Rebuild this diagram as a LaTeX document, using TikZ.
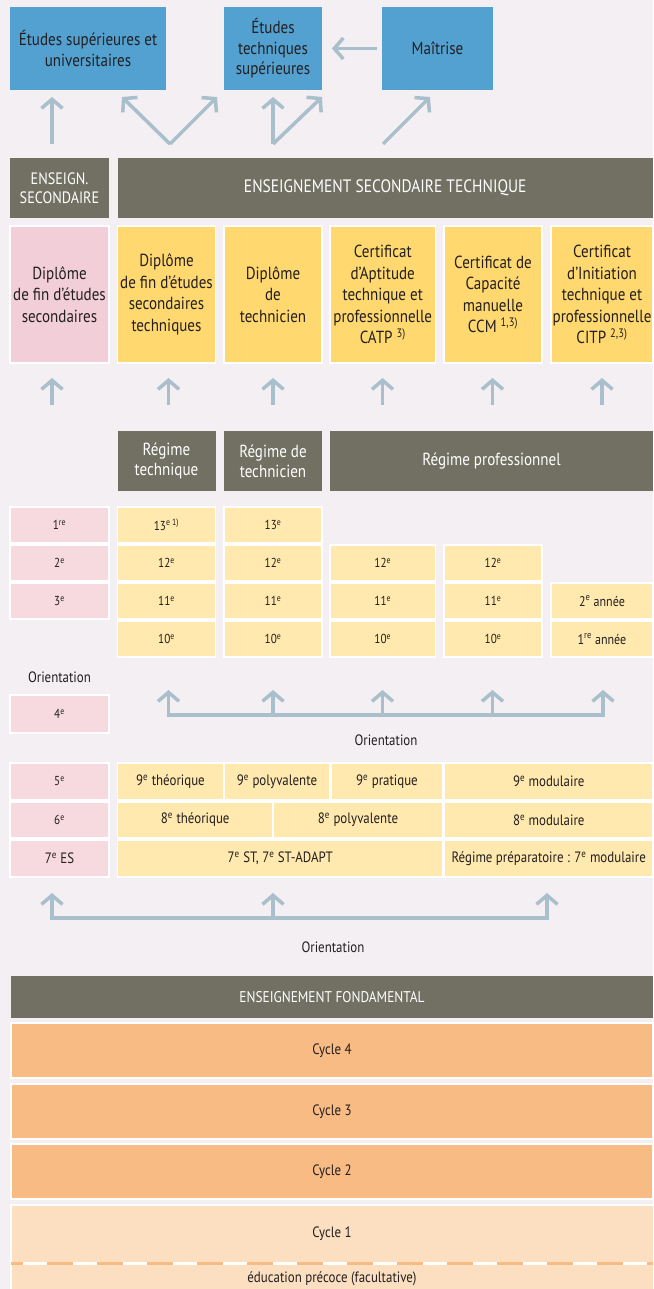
\documentclass[tikz,border=0pt]{standalone}
\usepackage{fontspec}
\setmainfont{PT Sans}[FakeStretch=0.86]
\usetikzlibrary{arrows.meta}
\definecolor{bg}{HTML}{F3EFF3}
\definecolor{cblue}{HTML}{53A1D1}
\definecolor{cgray}{HTML}{717062}
\definecolor{cpinkd}{HTML}{F2CFD8}
\definecolor{cpink}{HTML}{F6DAE0}
\definecolor{cyeld}{HTML}{FFD96F}
\definecolor{cyel}{HTML}{FFE9AE}
\definecolor{corange}{HTML}{F7BB83}
\definecolor{clight}{HTML}{FCDFC0}
\definecolor{carr}{HTML}{A9BFCC}
\definecolor{txt}{HTML}{231F20}
\newcommand\bx[7]{\path ({(#2+#4)/2},{(#3+#5)/2}) node[#6, minimum width={#4-#2}, minimum height={#5-#3}] (#1) {#7};}
\newcommand\se[1]{\textsuperscript{#1}}
\begin{document}
\begin{tikzpicture}[x=1pt,y=-1pt,
  box/.style={inner sep=0pt, outer sep=0pt, draw=white, line width=1.2pt, align=center, text=txt},
  bluebox/.style={box, fill=cblue, draw=none, font=\fontsize{17.5}{20.5}\selectfont},
  hdr/.style={box, fill=cgray, text=white, draw=none, font=\fontsize{18}{19}\selectfont},
  dip/.style={box, font=\fontsize{17.5}{21.5}\selectfont},
  cell/.style={box, font=\fontsize{13}{15}\selectfont},
  rowc/.style={box, font=\fontsize{15}{17}\selectfont},
  cyc/.style={box, fill=corange, font=\fontsize{15}{17}\selectfont},
  lbl/.style={text=txt, font=\fontsize{15}{17}\selectfont, inner sep=0pt},
  arr/.style={draw=carr, line width=3.5pt, -{Straight Barb[length=9pt,width=21pt]}},
  arrb/.style={draw=carr, line width=3.5pt, {Straight Barb[length=9pt,width=21pt]}-{Straight Barb[length=9pt,width=21pt]}}
]
\fill[bg] (0,0) rectangle (653,1289);
\useasboundingbox (0,0) rectangle (653,1289);

% top boxes
\bx{b1}{10}{7}{166}{90}{bluebox}{Études supérieures et\\universitaires}
\bx{b2}{224}{7}{322}{90}{bluebox}{Études\\techniques\\supérieures}
\bx{b3}{382}{7}{493}{90}{bluebox}{Maîtrise}
\draw[arr, shorten <=5pt, shorten >=10pt] (b3.west) -- (b2.east);

\coordinate (s1) at (52,144);   \coordinate (t1) at (52,97);
\coordinate (s2) at (170,144);  \coordinate (t2a) at (122,97); \coordinate (t2b) at (217,97);
\coordinate (s3) at (273,144);  \coordinate (t3a) at (273,97); \coordinate (t3b) at (322,97);
\coordinate (s4) at (383,144);  \coordinate (t4) at (430,97);
\draw[arr] (s1) -- (t1);
\draw[arr] (s2) -- (t2a);
\draw[arr] (s2) -- (t2b);
\draw[arr] (s3) -- (t3a);
\draw[arr] (s3) -- (t3b);
\draw[arr] (s4) -- (t4);

% gray headers
\bx{g1}{10}{158}{109}{218}{hdr, font=\fontsize{16.5}{19}\selectfont}{ENSEIGN.\\SECONDAIRE}
\bx{g2}{117.5}{158}{653}{218}{hdr}{ENSEIGNEMENT SECONDAIRE TECHNIQUE}

% diplomas
\bx{d0}{10}{226}{109}{363}{dip, fill=cpinkd}{Diplôme\\de fin d’études\\secondaires}
\bx{d1}{117.5}{226}{215.5}{363}{dip, fill=cyeld}{Diplôme\\de fin d’études\\secondaires\\techniques}
\bx{d2}{224}{226}{322}{363}{dip, fill=cyeld}{Diplôme\\de\\technicien}
\bx{d3}{330}{226}{435.5}{363}{dip, fill=cyeld}{Certificat\\d’Aptitude\\technique et\\professionnelle\\CATP \se{3)}}
\bx{d4}{444}{226}{542}{363}{dip, fill=cyeld}{Certificat de\\Capacité\\manuelle\\CCM \se{1,3)}}
\bx{d5}{551}{226}{653}{363}{dip, fill=cyeld}{Certificat\\d’Initiation\\technique et\\professionnelle\\CITP \se{2,3)}}

\foreach \x [count=\i] in {52,168.5,273,382.5,492.5,602}{
  \coordinate (us\i) at (\x,405); \coordinate (ut\i) at (\x,378);
  \draw[arr] (us\i) -- (ut\i);
}

% regimes
\bx{r1}{117.5}{431}{215.5}{491}{hdr, font=\fontsize{17.5}{20}\selectfont}{Régime\\technique}
\bx{r2}{224}{431}{322}{491}{hdr, font=\fontsize{17.5}{20}\selectfont}{Régime de\\technicien}
\bx{r3}{330}{431}{653}{491}{hdr, font=\fontsize{17.5}{20}\selectfont}{Régime professionnel}

% grid
\bx{p1}{10}{507}{109}{543}{cell, fill=cpink}{1\se{re}}
\bx{p2}{10}{545}{109}{581}{cell, fill=cpink}{2\se{e}}
\bx{p3}{10}{583}{109}{619}{cell, fill=cpink}{3\se{e}}
\bx{a1}{117.5}{507}{215.5}{543}{cell, fill=cyel}{13\se{e 1)}}
\bx{a2}{117.5}{545}{215.5}{581}{cell, fill=cyel}{12\se{e}}
\bx{a3}{117.5}{583}{215.5}{619}{cell, fill=cyel}{11\se{e}}
\bx{a4}{117.5}{621}{215.5}{657}{cell, fill=cyel}{10\se{e}}
\bx{e1}{224}{507}{322}{543}{cell, fill=cyel}{13\se{e}}
\bx{e2}{224}{545}{322}{581}{cell, fill=cyel}{12\se{e}}
\bx{e3}{224}{583}{322}{619}{cell, fill=cyel}{11\se{e}}
\bx{e4}{224}{621}{322}{657}{cell, fill=cyel}{10\se{e}}
\bx{f2}{330}{545}{435.5}{581}{cell, fill=cyel}{12\se{e}}
\bx{f3}{330}{583}{435.5}{619}{cell, fill=cyel}{11\se{e}}
\bx{f4}{330}{621}{435.5}{657}{cell, fill=cyel}{10\se{e}}
\bx{h2}{444}{545}{542}{581}{cell, fill=cyel}{12\se{e}}
\bx{h3}{444}{583}{542}{619}{cell, fill=cyel}{11\se{e}}
\bx{h4}{444}{621}{542}{657}{cell, fill=cyel}{10\se{e}}
\bx{k3}{551}{583}{653}{619}{cell, fill=cyel, font=\fontsize{14}{16}\selectfont}{2\se{e} année}
\bx{k4}{551}{621}{653}{657}{cell, fill=cyel, font=\fontsize{14}{16}\selectfont}{1\se{re} année}

% orientation 1
\node[lbl] (o1) at (59.5,677) {Orientation};
\bx{p4}{10}{695}{109}{733}{cell, fill=cpink}{4\se{e}}
\coordinate (ob1) at (168.5,715); \coordinate (ot1) at (168.5,690);
\coordinate (ob5) at (603,715);   \coordinate (ot5) at (603,690);
\draw[arrb, line join=miter] (ot1) -- (ob1) -- (ob5) -- (ot5);
\foreach \x [count=\i from 2] in {273,382.5,492.5}{
  \coordinate (ob\i) at (\x,715); \coordinate (ot\i) at (\x,690);
  \draw[arr] (ob\i) -- (ot\i);
}
\node[lbl] (o2) at (386,740) {Orientation};

% lower rows
\bx{p5}{10}{763}{109}{800}{cell, fill=cpink}{5\se{e}}
\bx{p6}{10}{802}{109}{838}{cell, fill=cpink}{6\se{e}}
\bx{p7}{10}{840}{109}{877}{cell, fill=cpink, font=\fontsize{15}{17}\selectfont}{7\se{e} ES}
\bx{n1}{117.5}{763}{223.5}{800}{rowc, fill=cyel}{9\se{e} théorique}
\bx{n2}{224}{763}{330}{800}{rowc, fill=cyel}{9\se{e} polyvalente}
\bx{n3}{331}{763}{443}{800}{rowc, fill=cyel}{9\se{e} pratique}
\bx{n4}{444.5}{763}{653}{800}{rowc, fill=cyel}{9\se{e} modulaire}
\bx{m1}{117.5}{802}{273}{838}{rowc, fill=cyel}{8\se{e} théorique}
\bx{m2}{273}{802}{443}{838}{rowc, fill=cyel}{8\se{e} polyvalente}
\bx{m3}{444.5}{802}{653}{838}{rowc, fill=cyel}{8\se{e} modulaire}
\bx{l1}{117.5}{840}{443}{877}{rowc, fill=cyel}{7\se{e} ST, 7\se{e} ST-ADAPT}
\bx{l2}{444.5}{840}{653}{877}{rowc, fill=cyel}{Régime préparatoire : 7\se{e} modulaire}

% orientation 2
\coordinate (qb1) at (52,918);  \coordinate (qt1) at (52,893);
\coordinate (qb2) at (273,918); \coordinate (qt2) at (273,893);
\coordinate (qb3) at (547,918); \coordinate (qt3) at (547,893);
\draw[arrb, line join=miter] (qt1) -- (qb1) -- (qb3) -- (qt3);
\draw[arr] (qb2) -- (qt2);
\node[lbl] (o3) at (333,947) {Orientation};

% fondamental
\bx{fh}{11}{976}{653}{1018}{hdr, font=\fontsize{15.5}{17}\selectfont}{ENSEIGNEMENT FONDAMENTAL}
\bx{c4}{11}{1023}{653}{1078}{cyc}{Cycle 4}
\bx{c3}{11}{1084}{653}{1139}{cyc}{Cycle 3}
\bx{c2}{11}{1144}{653}{1199}{cyc}{Cycle 2}
\fill[clight] (11,1205) rectangle (653,1289);
\draw[white, line width=1.2pt] (11,1289) -- (11,1205) -- (653,1205);
\bx{c1}{11}{1205}{653}{1262}{cyc, fill=none, draw=none}{Cycle 1}
\bx{ep}{11}{1265}{653}{1293}{cyc, fill=none, draw=none}{éducation précoce (facultative)}
\draw[corange, line width=3pt] (11,1263) -- (653,1263);
\draw[white, line width=3pt, dash pattern=on 24pt off 26pt, dash phase=-12pt] (11,1263) -- (653,1263);
\end{tikzpicture}
\end{document}
